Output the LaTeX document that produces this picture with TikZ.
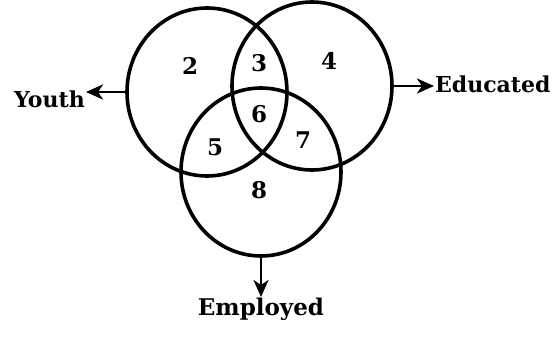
\documentclass[tikz,border=0pt]{standalone}
\usepackage{fontspec}
\setmainfont{DejaVu Serif}
\usetikzlibrary{shapes.geometric,arrows.meta}

\begin{document}
\begin{tikzpicture}[x=1pt,y=-1pt,
    set/.style={draw, ellipse, line width=3.6pt, minimum width=160pt,
        minimum height=168pt, inner sep=0pt, outer sep=0pt},
    region/.style={font=\fontsize{23}{23}\selectfont\bfseries},
    lbl/.style={font=\fontsize{22}{22}\selectfont\bfseries, inner sep=1pt},
    pointer/.style={-{Stealth[length=17pt,width=15pt,inset=5pt]}, line width=2.8pt}
    ]
    \useasboundingbox (0,0) rectangle (552,339);
    % the three sets
    \node[set] (youth) at (207,92) {};
    \node[set] (educated) at (312,86) {};
    \node[set] (employed) at (261,172) {};
    % regions
    \node[region] (r2) at (190,66) {2};
    \node[region] (r3) at (259,63) {3};
    \node[region] (r4) at (329,61) {4};
    \node[region] (r6) at (259,114) {6};
    \node[region] (r5) at (215,147) {5};
    \node[region] (r7) at (303,140) {7};
    \node[region] (r8) at (259,190) {8};
    % labels
    \node[lbl, anchor=east] (ylab) at (86,99) {Youth};
    \node[lbl, anchor=west] (elab) at (434,84) {Educated};
    \node[lbl, anchor=north, font=\fontsize{23}{23}\selectfont\bfseries] (mlab) at (261,297) {Employed};
    \draw[pointer] (youth.west) -- (youth.west -| ylab.east);
    \draw[pointer] (educated.east) -- (educated.east -| elab.west);
    \draw[pointer] (employed.south) -- (employed.south |- mlab.north);
\end{tikzpicture}
\end{document}
